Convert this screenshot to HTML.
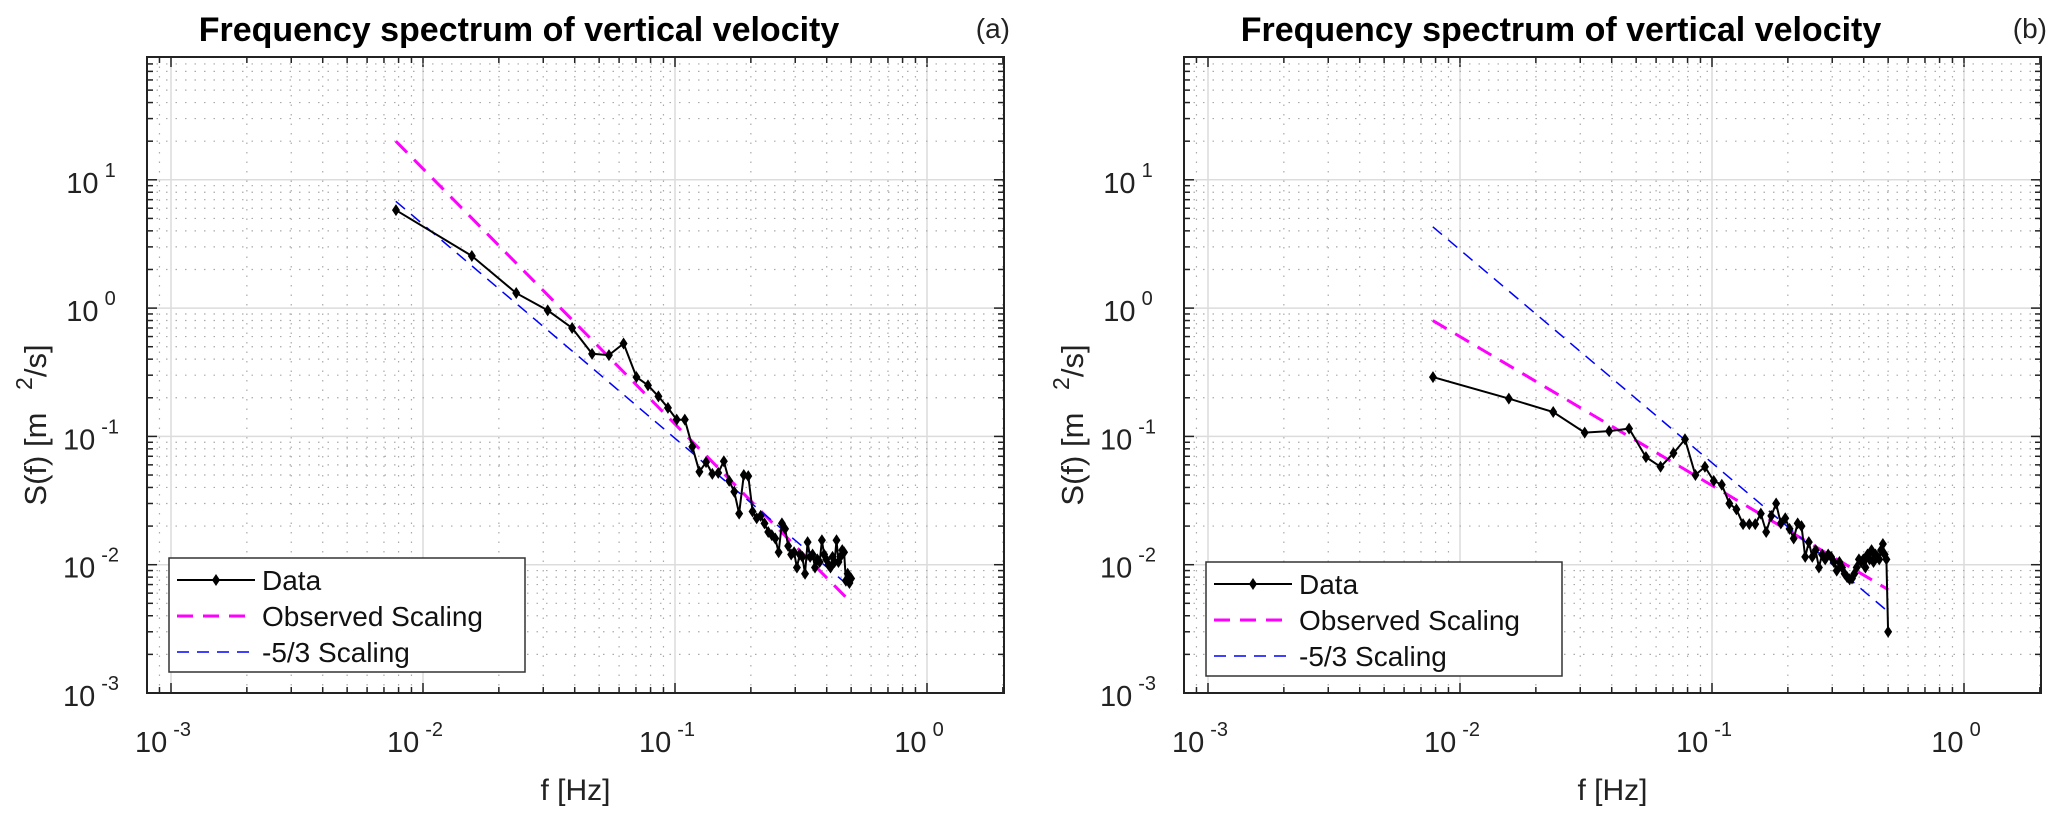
<!DOCTYPE html>
<html><head><meta charset="utf-8"><style>
body{margin:0;background:#fff;}
svg{display:block;font-family:"Liberation Sans",sans-serif;}
</style></head><body>
<svg id="fig" width="2067" height="820" viewBox="0 0 2067 820"></svg>
<script>
const freqs = [];
for (let n = 1; n <= 64; n++) freqs.push(n / 128);
const dataA = [5.8,2.55,1.31,0.96,0.70,0.44,0.43,0.53,0.29,0.25,0.205,0.167,0.135,0.135,0.083,0.053,0.063,0.051,0.052,0.064,0.045,0.037,0.025,0.05,0.049,0.026,0.023,0.024,0.021,0.018,0.017,0.016,0.0125,0.021,0.019,0.014,0.012,0.0125,0.0095,0.012,0.0115,0.0085,0.015,0.0115,0.012,0.0095,0.011,0.0105,0.0155,0.012,0.011,0.01,0.0095,0.0115,0.0105,0.0155,0.0105,0.0115,0.013,0.0125,0.0075,0.0085,0.0072,0.0078];
const dataB = [0.29,0.197,0.155,0.107,0.11,0.115,0.069,0.058,0.074,0.095,0.05,0.058,0.045,0.042,0.03,0.027,0.0207,0.0207,0.0207,0.025,0.018,0.024,0.03,0.021,0.023,0.019,0.016,0.021,0.02,0.0115,0.015,0.0115,0.013,0.0095,0.012,0.011,0.012,0.0115,0.0105,0.009,0.0105,0.0095,0.0085,0.008,0.0077,0.0078,0.0085,0.0095,0.011,0.0105,0.011,0.0095,0.012,0.011,0.013,0.0105,0.012,0.0115,0.011,0.013,0.0145,0.012,0.011,0.003];
const obsA = [[0.0078,20],[0.48,0.0055]];
const k53A = [[0.0078,6.8],[0.5,0.0066]];
const obsB = [[0.0078,0.8],[0.5,0.0064]];
const k53B = [[0.0078,4.3],[0.5,0.0043]];
const xTickExps = [-3,-2,-1,0];
const yTickExps = [-3,-2,-1,0,1];

const NS='http://www.w3.org/2000/svg';
const svg=document.getElementById('fig');
function mk(tag,attrs,parent){const e=document.createElementNS(NS,tag);for(const k in attrs)e.setAttribute(k,attrs[k]);(parent||svg).appendChild(e);return e;}

function panel(ox,data,obs,k53,tag,titleX,legY){
  const L=ox+147,R=ox+1004,T=57,B=693;
  const x0=ox+171, dx=252, y0=693, dy=128.3;
  const X=f=>x0+(Math.log10(f)+3)*dx;
  const Y=s=>y0-(Math.log10(s)+3)*dy;
  const g=mk('g',{});
  
  
  const grid=mk('g',{},g);
  
  
  for(let e=-4;e<=0;e++)for(let m=1;m<=9;m++){const xv=X(m*Math.pow(10,e));if(xv<=L+1||xv>=R-1)continue;
    if(m===1){mk('line',{x1:xv,x2:xv,y1:T,y2:B,stroke:'#dcdcdc','stroke-width':1.5},grid);}
    else{mk('line',{x1:xv,x2:xv,y1:T,y2:B,stroke:'#aaa','stroke-width':1.2,'stroke-dasharray':'1.5 8'},grid);}
    mk('line',{x1:xv,x2:xv,y1:B,y2:B-(m===1?10:6),stroke:'#222','stroke-width':1.5},grid);
    mk('line',{x1:xv,x2:xv,y1:T,y2:T+(m===1?10:6),stroke:'#222','stroke-width':1.5},grid);}
  for(let e=-3;e<=2;e++)for(let m=1;m<=9;m++){const yv=Y(m*Math.pow(10,e));if(yv<=T+1||yv>=B-1)continue;
    if(m===1){mk('line',{x1:L,x2:R,y1:yv,y2:yv,stroke:'#dcdcdc','stroke-width':1.5},grid);}
    else{mk('line',{x1:L,x2:R,y1:yv,y2:yv,stroke:'#aaa','stroke-width':1.2,'stroke-dasharray':'1.5 8'},grid);}
    mk('line',{x1:L,x2:L+(m===1?10:6),y1:yv,y2:yv,stroke:'#222','stroke-width':1.5},grid);
    mk('line',{x1:R,x2:R-(m===1?10:6),y1:yv,y2:yv,stroke:'#222','stroke-width':1.5},grid);}
  const frame=mk('rect',{x:L,y:T,width:R-L,height:B-T,fill:'none',stroke:'#222','stroke-width':2},g);
  
  
  xTickExps.forEach(e=>{const t=mk('text',{x:X(Math.pow(10,e))-8,y:752,'font-size':29,'text-anchor':'middle',fill:'#222'},g);
    
    
    t.innerHTML='10<tspan dx="6" dy="-16" font-size="20">'+e+'</tspan>';});
  yTickExps.forEach(e=>{const t=mk('text',{x:L-56,y:Y(Math.pow(10,e))+13,'font-size':29,'text-anchor':'middle',fill:'#222'},g);
    
    
    t.innerHTML='10<tspan dx="6" dy="-16" font-size="20">'+e+'</tspan>';});
  const xl=mk('text',{x:(L+R)/2,y:800,'font-size':30,'text-anchor':'middle',fill:'#222'},g);
  xl.textContent='f [Hz]';
  
  
  const yl=mk('text',{x:0,y:0,'font-size':31,'text-anchor':'middle',fill:'#222',transform:'translate('+(ox+46)+',425) rotate(-90)'},g);
  yl.innerHTML='S(f) [m <tspan dx="14" dy="-14" font-size="23">2</tspan><tspan dy="14">/s]</tspan>';
  
  
  const ti=mk('text',{x:titleX,y:41,'font-size':34,'font-weight':'bold','text-anchor':'middle',fill:'#000'},g);
  ti.textContent='Frequency spectrum of vertical velocity';
  
  
  const tg=mk('text',{x:ox+1010,y:38,'font-size':28,'text-anchor':'end',fill:'#222'},g);
  tg.textContent='('+tag+')';
  
  
  const ol=mk('line',{x1:X(obs[0][0]),y1:Y(obs[0][1]),x2:X(obs[1][0]),y2:Y(obs[1][1]),stroke:'#ff00ff','stroke-width':3,'stroke-dasharray':'16 10'},g);
  
  
  const kl=mk('line',{x1:X(k53[0][0]),y1:Y(k53[0][1]),x2:X(k53[1][0]),y2:Y(k53[1][1]),stroke:'#0000ff','stroke-width':1.5,'stroke-dasharray':'12 8'},g);
  
  
  const pts=data.map((s,i)=>X(freqs[i]).toFixed(1)+','+Y(s).toFixed(1)).join(' ');
  const dl=mk('polyline',{points:pts,fill:'none',stroke:'#000','stroke-width':2},g);
  
  
  data.forEach((s,i)=>{const cx=X(freqs[i]),cy=Y(s);
    const p=mk('path',{d:`M${cx-4},${cy}L${cx},${cy-6}L${cx+4},${cy}L${cx},${cy+6}Z`,fill:'#000'},g);
    
    });
  const lg=mk('g',{},g);
  
  
  const lx=ox+169;
  mk('rect',{x:lx,y:legY,width:356,height:114,fill:'#fff',stroke:'#333','stroke-width':1.5},lg);
  const rows=[['Data','#000','none',2],['Observed Scaling','#ff00ff','16 10',3],['-5/3 Scaling','#0000ff','12 8',1.5]];
  rows.forEach((r,i)=>{const yy=legY+22+i*36;
    const e=mk('g',{},lg);
    
    
    mk('line',{x1:lx+8,x2:lx+86,y1:yy,y2:yy,stroke:r[1],'stroke-width':r[3],'stroke-dasharray':r[2]},e);
    if(i===0)mk('path',{d:`M${lx+43},${yy}L${lx+47},${yy-6}L${lx+51},${yy}L${lx+47},${yy+6}Z`,fill:'#000'},e);
    const t=mk('text',{x:lx+93,y:yy+10,'font-size':28,fill:'#111'},e);t.textContent=r[0];});
}
panel(0,dataA,obsA,k53A,'a',519,558);
panel(1037,dataB,obsB,k53B,'b',1561,562);
</script>
</body></html>
